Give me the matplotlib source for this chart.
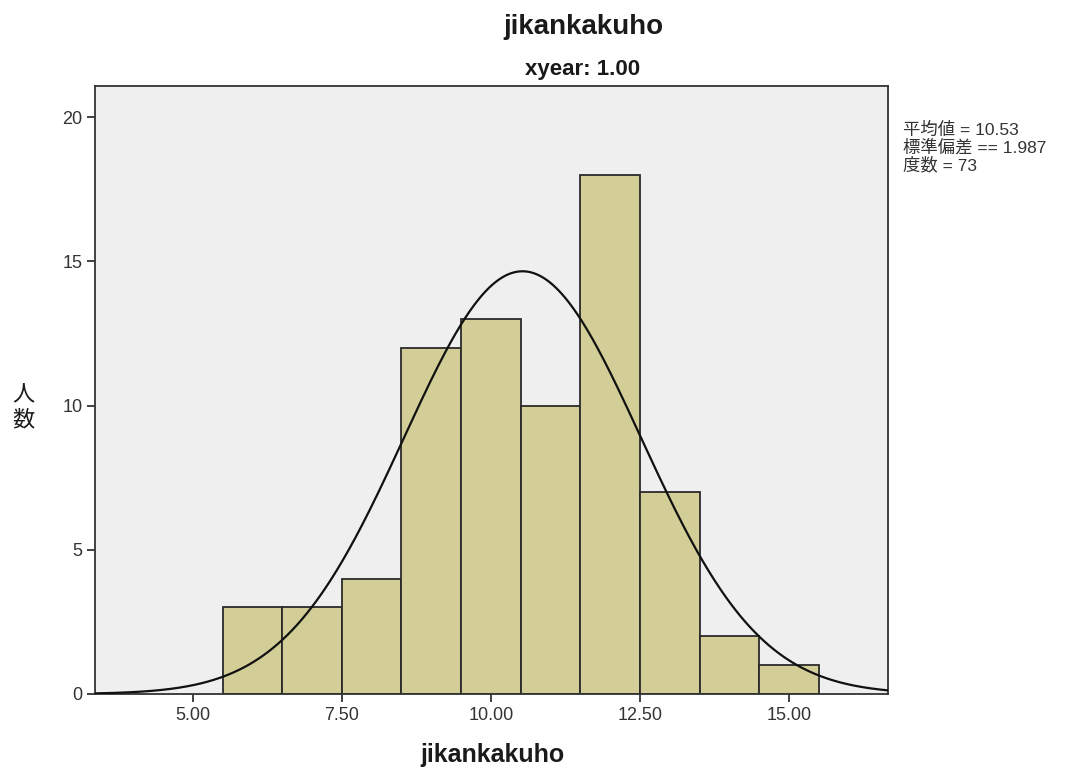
import numpy as np
import matplotlib.pyplot as plt

plt.rcParams['font.family'] = ['Liberation Sans', 'Noto Sans CJK JP', 'DejaVu Sans']

# histogram data (bin width 1)
bin_centers = [6, 7, 8, 9, 10, 11, 12, 13, 14, 15]
counts = [3, 3, 4, 12, 13, 10, 18, 7, 2, 1]
mean_val = 10.53
sd_val = 1.987
n_val = 73
x_ticks = [5.0, 7.5, 10.0, 12.5, 15.0]
y_ticks = [0, 5, 10, 15, 20]
stat_lines = ['平均値 = 10.53', '標準偏差 == 1.987', '度数 = 73']

W, H = 1080, 769
fig = plt.figure(figsize=(W / 100, H / 100), dpi=100)
ax = fig.add_axes([95 / W, 1 - 694 / H, (888 - 95) / W, (694 - 86) / H])
ax.set_facecolor('#EFEFEF')

ax.bar(bin_centers, counts, width=1.0, color='#D3CE97',
       edgecolor='#2a2a2a', linewidth=1.3, zorder=2)

# normal curve scaled to the counts
xmin, xmax = 3.36, 16.66
xs = np.linspace(xmin, xmax, 500)
ys = n_val * np.exp(-0.5 * ((xs - mean_val) / sd_val) ** 2) / (sd_val * np.sqrt(2 * np.pi))
ax.plot(xs, ys, color='#111111', lw=1.6, zorder=3)

ax.set_xlim(xmin, xmax)
ax.set_ylim(0, 21.08)
ax.set_xticks(x_ticks)
ax.set_xticklabels(['%.2f' % v for v in x_ticks])
ax.set_yticks(y_ticks)
ax.set_yticklabels([str(v) for v in y_ticks])
ax.tick_params(direction='out', length=6, width=1.3, color='#333333',
               labelcolor='#333333', labelsize=13, pad=3)
for s in ax.spines.values():
    s.set_color('#333333')
    s.set_linewidth(1.3)

fig.text(583 / W, 1 - 27 / H, 'jikankakuho', ha='center', va='center',
         fontsize=20, fontweight='bold', color='#1a1a1a')
fig.text(583 / W, 1 - 70 / H, 'xyear: 1.00', ha='center', va='center',
         fontsize=16, fontweight='bold', color='#1a1a1a')
fig.text(492 / W, 1 - 755 / H, 'jikankakuho', ha='center', va='center',
         fontsize=18, fontweight='bold', color='#1a1a1a')
fig.text(23 / W, 1 - 408 / H, '人\n数', ha='center', va='center',
         fontsize=16, linespacing=1.25, color='#1a1a1a')

for i, line in enumerate(stat_lines):
    fig.text(903 / W, 1 - (130 + 17.5 * i) / H, line, ha='left', va='center',
             fontsize=12.5, color='#333333')

fig.savefig('out.png', dpi=100)
